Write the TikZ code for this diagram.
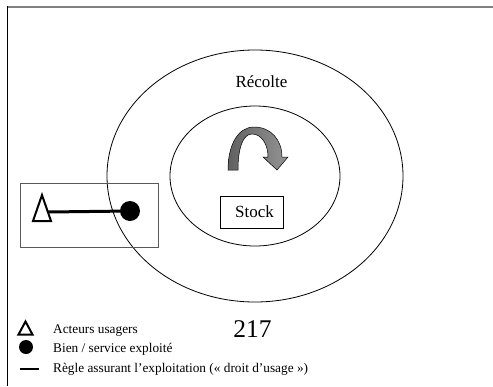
\documentclass[tikz,border=0pt]{standalone}
\usepackage{fontspec}
\setmainfont{Liberation Serif}
\begin{document}
\begin{tikzpicture}[x=1pt,y=-1pt,
  ring/.style={draw=black, line width=0.8pt},
  framebox/.style={draw=black, line width=0.8pt, inner sep=0pt},
  bigtxt/.style={font=\fontsize{17}{20}\selectfont},
  legtxt/.style={font=\fontsize{13.3}{15}\selectfont, anchor=base west, inner sep=0pt},
  actor/.style={draw=black, line width=2pt, fill=white, line join=miter},
  good/.style={circle, fill=black, inner sep=0pt},
  rule/.style={line width=3pt}]
\useasboundingbox (0,0) rectangle (493,386);

% page frame
\draw[gray, line width=1.5pt] (7,7) -- (493,7);
\draw[black, line width=0.8pt] (7,6.25) -- (7,386);

% harvest and stock domains
\draw[ring] (255,176) ellipse [x radius=148, y radius=126];
\draw[ring] (255,176) ellipse [x radius=85, y radius=70];
\node[bigtxt, anchor=base, inner sep=0pt] (recolte) at (261.5,87) {Récolte};

% renewal arrow
\draw[black, line width=0.5pt, left color=black!62, right color=black!42]
  (228,170) .. controls (228,145) and (238,127) .. (254,127)
  .. controls (271,127) and (282,140) .. (282,157)
  -- (288,157) -- (277,170) -- (263,157) -- (268,157)
  .. controls (268,145) and (262,134) .. (252,134)
  .. controls (243,134) and (238,148) .. (238,170) -- cycle;

% stock
\node[framebox, minimum width=63pt, minimum height=32pt, bigtxt] (stock) at (251.5,212) {\hspace*{6pt}Stock};

% user / resource relation
\node[draw=black!65, line width=1pt, minimum width=138pt, minimum height=64pt, inner sep=0pt] (usage) at (89,215) {};
\coordinate (tA) at (42,195);
\coordinate (tB) at (51,221);
\coordinate (tC) at (33,221);
\coordinate (tside) at (48,212);
\node[good, minimum size=20pt] (bien) at (130,211) {};
\draw[rule] (tside) -- (bien.center);
\draw[actor] (tA) -- (tB) -- (tC) -- cycle;

% legend
\coordinate (lA) at (25.5,321.5);
\coordinate (lB) at (32.5,334.5);
\coordinate (lC) at (18.5,334.5);
\draw[actor] (lA) -- (lB) -- (lC) -- cycle;
\node[good, minimum size=14pt] (ldot) at (26,347) {};
\coordinate (lr1) at (20,369);
\coordinate (lr2) at (39,369);
\draw[line width=2.3pt] (lr1) -- (lr2);
\node[legtxt] (t1) at (53,333) {Acteurs usagers};
\node[legtxt] (t2) at (53,352) {Bien / service exploité};
\node[legtxt] (t3) at (53,372) {Règle assurant l’exploitation (« droit d’usage »)};

% page number
\node[font=\fontsize{25.5}{28}\selectfont, anchor=base, inner sep=0pt] (page) at (252.5,337) {217};
\end{tikzpicture}
\end{document}
